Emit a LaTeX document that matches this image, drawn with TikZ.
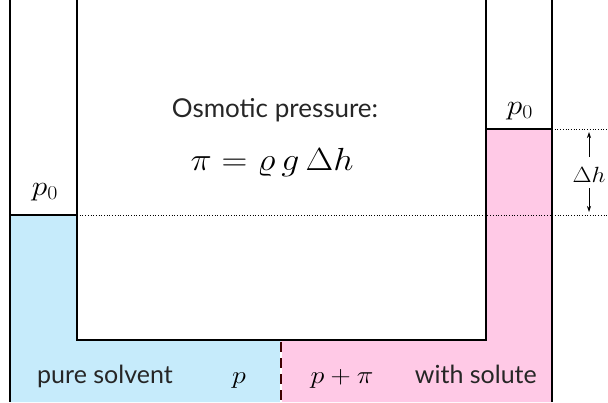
\RequirePackage{fix-cm}
\documentclass[tikz,border=0pt]{standalone}
\usepackage{graphicx}
\usepackage{fontspec}
\setmainfont{Lato}
\usetikzlibrary{arrows.meta}
\definecolor{solv}{HTML}{C6EBFB}
\definecolor{solu}{HTML}{FFC9E6}
\newcommand\stretchx[1]{\scalebox{1.12}[1]{#1}}
\begin{document}
\begin{tikzpicture}[x=1pt,y=-1pt,
  wall/.style={line width=2.8pt,line join=miter},
  dotline/.style={line width=0.7pt,dotted},
  txt/.style={inner sep=0pt,anchor=base,font=\fontsize{25}{28}\selectfont,text=black!85},
  mlbl/.style={inner sep=0pt,anchor=base,font=\fontsize{25}{28}\selectfont},
  dharrow/.style={-{Stealth[length=6pt,width=4pt]},line width=0.7pt}]
\useasboundingbox (0,0) rectangle (608,402);
% fills
\fill[solv] (10,215) -- (77,215) -- (77,340) -- (281,340) -- (281,402) -- (10,402) -- cycle;
\fill[solu] (486,129) -- (552,129) -- (552,402) -- (281,402) -- (281,340) -- (486,340) -- cycle;
% coordinates
\coordinate (lo) at (10,0);
\coordinate (lob) at (10,402);
\coordinate (li) at (77,0);
\coordinate (lib) at (77,340);
\coordinate (rib) at (486,340);
\coordinate (ri) at (486,0);
\coordinate (ro) at (552,0);
\coordinate (rob) at (552,402);
\coordinate (ls1) at (10,215);
\coordinate (ls2) at (77,215);
\coordinate (rs1) at (486,129);
\coordinate (rs2) at (552,129);
\coordinate (le) at (608,215);
\coordinate (re) at (608,129);
\coordinate (d1) at (281,342);
\coordinate (d2) at (281,402);
\coordinate (au1) at (589,157);
\coordinate (au2) at (589,132);
\coordinate (ad1) at (589,188);
\coordinate (ad2) at (589,212);
% walls
\draw[wall] (lo) -- (lob);
\draw[wall] (li) -- (lib) -- (rib) -- (ri);
\draw[wall] (ro) -- (rob);
% surfaces
\draw[line width=2.4pt] (ls1) -- (ls2);
\draw[line width=2.4pt] (rs1) -- (rs2);
% dotted levels
\draw[dotline] (ls2) -- (le);
\draw[dotline] (rs2) -- (re);
% membrane
\draw[white,line width=2.6pt] (d1) -- (d2);
\draw[black!75!red,line width=2pt,dash pattern=on 10pt off 6pt] (d1) -- (d2);
% labels
\node[mlbl,font=\fontsize{28}{32}\selectfont] (p0l) at (45,195) {\stretchx{$p_0$}};
\node[mlbl,font=\fontsize{28}{32}\selectfont] (p0r) at (520,114) {\stretchx{$p_0$}};
\node[inner sep=0pt,anchor=base,font=\fontsize{22}{24}\selectfont] (dh) at (589,182) {\stretchx{$\Delta h$}};
\draw[dharrow] (au1) -- (au2);
\draw[dharrow] (ad1) -- (ad2);
\node[txt,font=\fontsize{26}{30}\selectfont] (title) at (275,117) {Osmotic pressure:};
\node[inner sep=0pt,anchor=base,font=\fontsize{32}{36}\selectfont] (eq) at (272,170) {\stretchx{$\pi = \varrho\, g\, \Delta h$}};
\node[txt,anchor=base west] (ps) at (37,383) {pure solvent};
\node[mlbl] (p) at (239,383) {\stretchx{$p$}};
\node[mlbl] (ppi) at (342,383) {\stretchx{$p+\pi$}};
\node[txt,anchor=base east] (ws) at (537,383) {with solute};
\end{tikzpicture}
\end{document}
